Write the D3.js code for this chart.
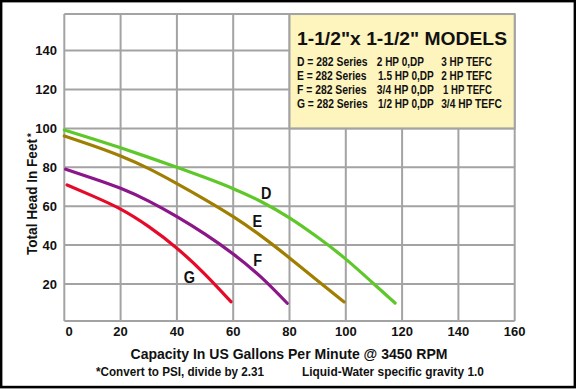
<!DOCTYPE html>
<html><head><meta charset="utf-8">
<script src="https://cdn.jsdelivr.net/npm/d3@7"></script>
<style>html,body{margin:0;padding:0;background:#fff;}svg{display:block;font-family:"Liberation Sans",Arial,sans-serif;font-weight:bold;}</style>
</head><body>
<svg id="c" width="576" height="389"></svg>
<script>
// ---- data ----
const xTicks = [0, 20, 40, 60, 80, 100, 120, 140, 160];
const yTicks = [20, 40, 60, 80, 100, 120, 140];
const seriesNames = ["D", "E", "F", "G"];
const seriesColors = ["#5ec82a", "#a07e00", "#8a168a", "#e60a2a"];
const curveD = [[0,99.2],[10,94.7],[20,90],[30,85.1],[40,80],[50,74.7],[60,69],[70,62.3],[80,54],[90,44],[100,32.8],[110,20],[117.5,10.2]];
const curveE = [[0,96.1],[10,91.2],[20,85.8],[30,79.3],[40,71.6],[50,63.4],[60,54.6],[70,44.6],[80,33.4],[90,21.7],[99.4,10.8]];
const curveF = [[0.5,79],[10,74.4],[20,69.2],[30,62.6],[40,54.6],[50,45.6],[60,35.4],[70,23.4],[79.2,10.1]];
const curveG = [[1,70.9],[10,65.3],[20,58.5],[30,49.5],[40,38.4],[50,25],[59.2,10.9]];
const labelPos = [[71.7,66.9],[68.6,52.5],[68.7,32.3],[44.4,23.7]];
const legendTitle = "1-1/2\"x 1-1/2\" MODELS";
const legendCol1 = ["D = 282 Series", "E = 282 Series", "F = 282 Series", "G = 282 Series"];
const legendCol2 = ["2 HP 0,DP", "1.5 HP 0,DP", "3/4 HP 0,DP", "1/2 HP 0,DP"];
const legendCol3 = ["3 HP TEFC", "2 HP TEFC", "1 HP TEFC", "3/4 HP TEFC"];
const xTitle = "Capacity In US Gallons Per Minute @ 3450 RPM";
const yTitle = "Total Head In Feet";
const note1 = "*Convert to PSI, divide by 2.31";
const note2 = "Liquid-Water specific gravity 1.0";

const curves = [curveD, curveE, curveF, curveG];
const svg = d3.select("#c");
const x = d3.scaleLinear().domain([0,160]).range([64.3,514.7]);
const y = d3.scaleLinear().domain([0,160]).range([322.9,11.7]);
const plotTop = y(158.8), plotBottom = y(1);
const grid = "#a3a3a3";

svg.append("rect").attr("x",0).attr("y",0).attr("width",576).attr("height",389).attr("fill","#fff");

// grid
const g = svg.append("g");
g.selectAll(".vx").data(xTicks).join("line")
  .attr("x1",d=>x(d)).attr("x2",d=>x(d)).attr("y1",plotTop).attr("y2",plotBottom)
  .attr("stroke",grid).attr("stroke-width",2);
g.selectAll(".hy").data(yTicks).join("line")
  .attr("x1",x(0)).attr("x2",x(160)).attr("y1",d=>y(d)).attr("y2",d=>y(d))
  .attr("stroke",grid).attr("stroke-width",2);
g.append("line").attr("x1",x(0)).attr("x2",x(160)).attr("y1",plotTop).attr("y2",plotTop).attr("stroke",grid).attr("stroke-width",2);
g.append("line").attr("x1",x(0)).attr("x2",x(160)).attr("y1",plotBottom).attr("y2",plotBottom).attr("stroke",grid).attr("stroke-width",2);

// legend box
const bx0 = x(80), bx1 = x(160), by0 = plotTop, by1 = y(100);
svg.append("rect").attr("x",bx0).attr("y",by0).attr("width",bx1-bx0).attr("height",by1-by0)
  .attr("fill","#fdf4be").attr("stroke",grid).attr("stroke-width",2);
svg.append("text").attr("x",297).attr("y",45).attr("font-size",18.5)
  .attr("textLength",210).attr("lengthAdjust","spacingAndGlyphs").attr("fill","#111").text(legendTitle);
const rowY = [65.5, 79.7, 93.9, 108];
const c1 = [[297,70.6],[297,69.5],[297,69.5],[297,70.6]];
const c2 = [[376.8,47.1],[378,55.8],[376.8,57],[378,55.8]];
const c3 = [[441.2,50.7],[441.2,50.7],[443,48.9],[441.2,60.6]];
[legendCol1,legendCol2,legendCol3].forEach((col,ci)=>{
  const pos=[c1,c2,c3][ci];
  svg.selectAll(null).data(col).join("text")
    .attr("x",(d,i)=>pos[i][0]).attr("y",(d,i)=>rowY[i]).attr("font-size",12.5)
    .attr("textLength",(d,i)=>pos[i][1]).attr("lengthAdjust","spacingAndGlyphs")
    .attr("fill","#111").text(d=>d);
});

// curves
const line = d3.line().x(d=>x(d[0])).y(d=>y(d[1])).curve(d3.curveNatural);
svg.selectAll(".crv").data(curves).join("path")
  .attr("d",line).attr("fill","none").attr("stroke",(d,i)=>seriesColors[i])
  .attr("stroke-width",3.2).attr("stroke-linecap","round").attr("stroke-linejoin","round");

// curve labels
svg.selectAll(".lbl").data(seriesNames).join("text")
  .attr("x",(d,i)=>x(labelPos[i][0])).attr("y",(d,i)=>y(labelPos[i][1]))
  .attr("dy","0.36em").attr("text-anchor","middle").attr("font-size",17)
  .attr("transform",(d,i)=>`translate(${x(labelPos[i][0])},0) scale(0.85,1) translate(${-x(labelPos[i][0])},0)`)
  .attr("fill","#111").text(d=>d);

// tick labels
svg.selectAll(".yt").data(yTicks).join("text")
  .attr("x",57).attr("y",d=>y(d)).attr("dy","0.36em").attr("text-anchor","end")
  .attr("font-size",13).attr("fill","#111").text(d=>d);
svg.selectAll(".xt").data(xTicks).join("text")
  .attr("x",d=>x(d)+(d===0?4.7:0)).attr("y",335.7).attr("text-anchor","middle")
  .attr("font-size",13).attr("fill","#111").text(d=>d);

// axis titles
svg.append("text").attr("transform","translate(37,255) rotate(-90)")
  .attr("font-size",15).attr("textLength",116).attr("lengthAdjust","spacingAndGlyphs")
  .attr("fill","#111").text(yTitle);
svg.append("text").attr("transform","translate(31.5,133) rotate(-90)")
  .attr("font-size",10).attr("fill","#111").attr("text-anchor","end").attr("dy","0.3em").text("*");
svg.append("text").attr("x",130.5).attr("y",359.3).attr("font-size",15)
  .attr("textLength",317).attr("lengthAdjust","spacingAndGlyphs").attr("fill","#111").text(xTitle);
svg.append("text").attr("x",96).attr("y",376).attr("font-size",12.5)
  .attr("textLength",168).attr("lengthAdjust","spacingAndGlyphs").attr("fill","#111").text(note1);
svg.append("text").attr("x",302).attr("y",376).attr("font-size",12.5)
  .attr("textLength",182).attr("lengthAdjust","spacingAndGlyphs").attr("fill","#111").text(note2);

// outer border
svg.append("rect").attr("x",1.1).attr("y",1.1).attr("width",573.8).attr("height",386).attr("fill","none")
  .attr("stroke","#000").attr("stroke-width",2.6);
</script>
</body></html>
